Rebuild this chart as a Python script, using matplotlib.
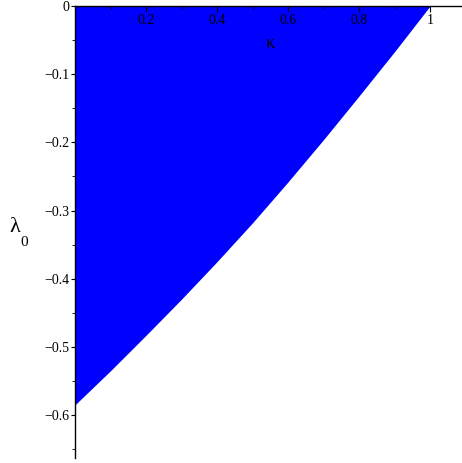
import numpy as np
import matplotlib
matplotlib.use("Agg")
import matplotlib.pyplot as plt

# boundary of the shaded region
kappa = [0.0, 0.1, 0.2, 0.3, 0.4, 0.5, 0.6, 0.7, 0.8, 0.9, 1.0]
lam0 = [-0.585, -0.535, -0.483, -0.430, -0.375, -0.318, -0.258, -0.196, -0.132, -0.067, 0.0]

x_major = [0.2, 0.4, 0.6, 0.8, 1.0]
x_major_labels = ["0.2", "0.4", "0.6", "0.8", "1"]
x_minor = [0.1, 0.3, 0.5, 0.7, 0.9]
y_major = [0.0, -0.1, -0.2, -0.3, -0.4, -0.5, -0.6]
y_major_labels = ["0", "\u22120.1", "\u22120.2", "\u22120.3", "\u22120.4", "\u22120.5", "\u22120.6"]
y_minor = [-0.05, -0.15, -0.25, -0.35, -0.45, -0.55, -0.65]

plt.rcParams["font.family"] = ["Liberation Serif", "DejaVu Serif"]

fig = plt.figure(figsize=(4.62, 4.63), dpi=100)
ax = fig.add_axes([75 / 462, 5 / 463, 387 / 462, 452 / 463])

ax.fill_between(kappa, lam0, 0, color="#0000ff", linewidth=0)

ax.set_xlim(0, 1.09)
ax.set_ylim(-0.663, 0)
ax.spines["right"].set_visible(False)
ax.spines["bottom"].set_visible(False)
for s in ("top", "left"):
    ax.spines[s].set_linewidth(1.0)
    ax.spines[s].set_zorder(5)

ax.xaxis.set_ticks_position("top")
ax.set_xticks(x_major, x_major_labels)
ax.set_xticks(x_minor, minor=True)
ax.tick_params(axis="x", which="both", direction="in", labeltop=True, labelbottom=False,
               labelsize=10, pad=-15)
ax.tick_params(axis="x", which="major", length=4)
ax.tick_params(axis="x", which="minor", length=2.5)

ax.set_yticks(y_major, y_major_labels)
ax.set_yticks(y_minor, minor=True)
ax.tick_params(axis="y", which="both", direction="out", labelsize=10, pad=1)
ax.tick_params(axis="y", which="major", length=3)
ax.tick_params(axis="y", which="minor", length=2)

ax.text(0.55, -0.055, "\u03ba", fontsize=13, ha="center", va="center")
fig.text(15 / 462, 1 - 227 / 463, "\u03bb", fontsize=16, ha="center", va="center")
fig.text(24 / 462, 1 - 243 / 463, "0", fontsize=11, ha="center", va="center")

fig.savefig("out.png", dpi=100)
